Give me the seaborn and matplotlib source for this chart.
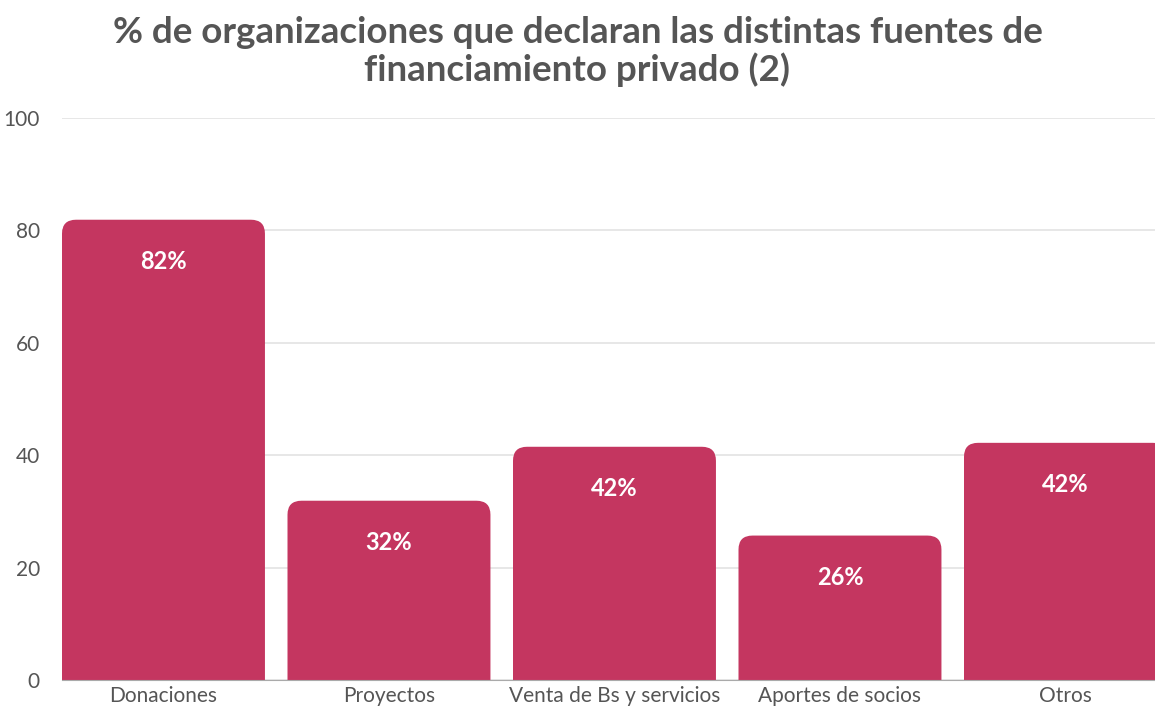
import pandas as pd
import seaborn as sns
import matplotlib.pyplot as plt
from matplotlib.patches import FancyBboxPatch

# data
categories = ['Donaciones', 'Proyectos', 'Venta de Bs y servicios', 'Aportes de socios', 'Otros']
values = [81.9, 31.9, 41.5, 25.7, 42.2]
labels = ['82%', '32%', '42%', '26%', '42%']

df = pd.DataFrame({'fuente': categories, 'pct': values})

sns.set_style('white')
plt.rcParams['font.family'] = ['Lato', 'DejaVu Sans']

bar_color = '#C43660'
text_gray = '#555555'

fig = plt.figure(figsize=(11.55, 7.10), dpi=100)
ax = fig.add_axes([62 / 1155, 30 / 710, 1127.5 / 1155, 562 / 710])

sns.barplot(data=df, x='fuente', y='pct', color=bar_color, width=0.9,
            saturation=1, ax=ax)

# swap the plain bars for ones with rounded tops; the box starts below 0
# so the axes clip hides its lower corners
for p in list(ax.patches):
    x, w, h = p.get_x(), p.get_width(), p.get_height()
    p.remove()
    ax.add_patch(FancyBboxPatch((x, -6), w, h + 6,
                                boxstyle='round,pad=0,rounding_size=0.062',
                                mutation_aspect=40, facecolor=bar_color,
                                edgecolor='none', zorder=3))

for i, (v, lab) in enumerate(zip(values, labels)):
    ax.text(i, v - 7.4, lab, ha='center', va='center', color='white',
            fontsize=17, fontweight='bold', zorder=4)

ax.set_xlim(-0.45, 4.55)
ax.set_ylim(0, 100)
ax.set_yticks([0, 20, 40, 60, 80, 100])
ax.yaxis.grid(True, color='#e3e3e3', linewidth=1.2, zorder=0)
ax.set_axisbelow(True)
for s in ['top', 'right', 'left']:
    ax.spines[s].set_visible(False)
ax.spines['bottom'].set_color('#aaaaaa')
ax.spines['bottom'].set_zorder(5)
ax.tick_params(axis='y', length=0, pad=16, labelsize=15, labelcolor=text_gray)
ax.tick_params(axis='x', length=0, pad=4, labelsize=15, labelcolor=text_gray)
ax.set_xlabel('')
ax.set_ylabel('')

fig.text(0.5, 0.927, '% de organizaciones que declaran las distintas fuentes de\nfinanciamiento privado (2)',
         ha='center', va='center', fontsize=26.5, fontweight='bold', color=text_gray,
         linespacing=1.12)

fig.savefig('out.png', dpi=100)
